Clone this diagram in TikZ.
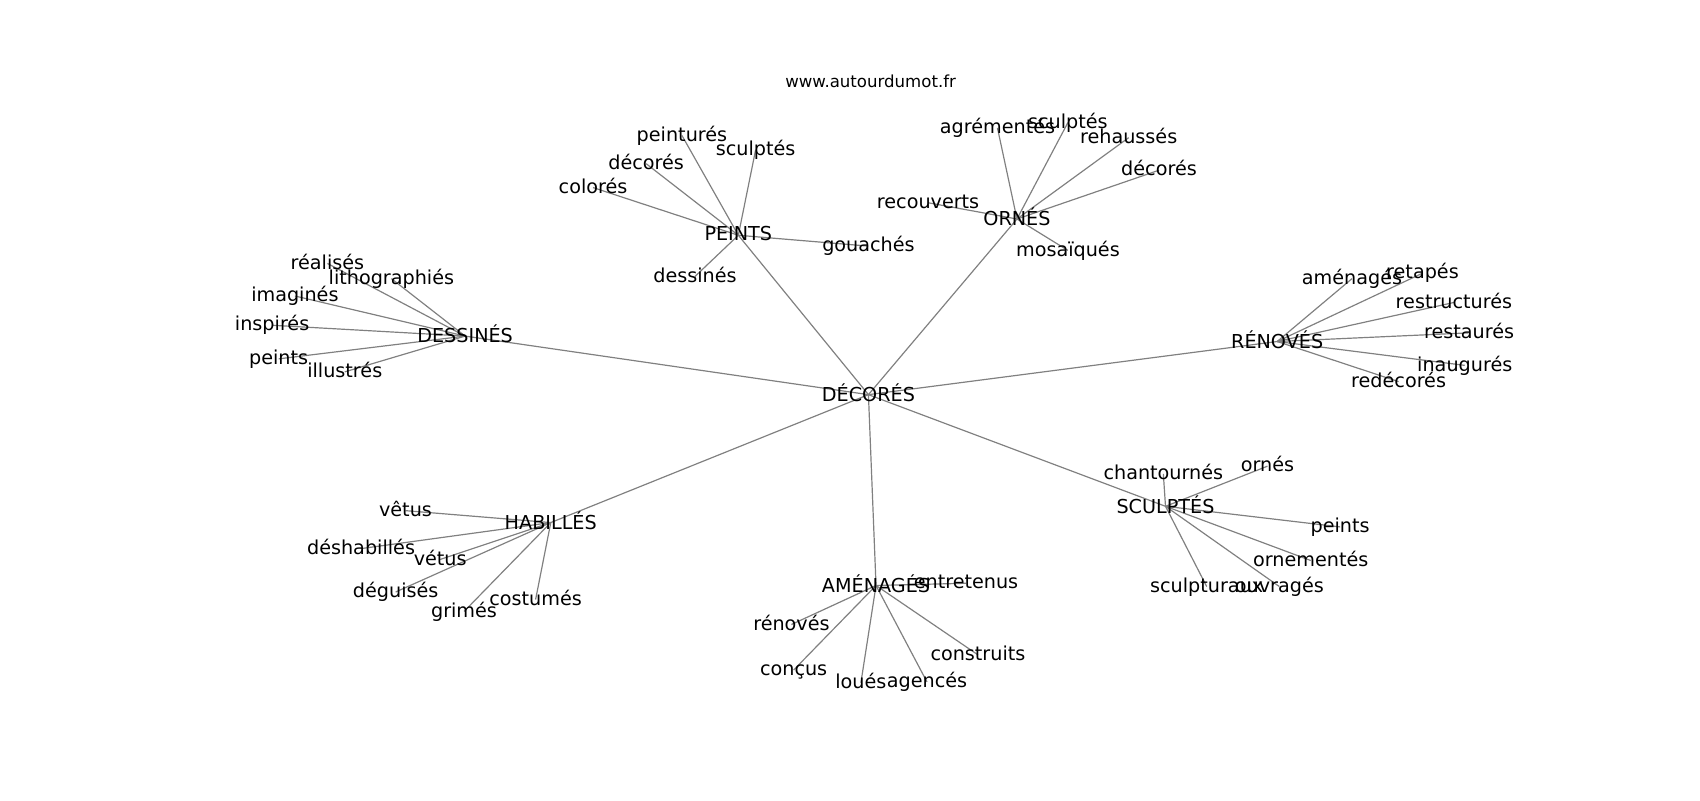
\documentclass[tikz,border=0pt]{standalone}
\usepackage{fontspec}
\setmainfont{DejaVu Sans}
\usetikzlibrary{backgrounds}
\begin{document}
\begin{tikzpicture}[x=1pt,y=-1pt,
  lab/.style={inner sep=0pt, text height=14.16pt, text depth=3.72pt, font=\fontsize{17.7}{21}\selectfont},
  caplab/.style={lab, text height=16.43pt},
  ttl/.style={inner sep=0pt, text height=12.2pt, text depth=3.2pt, font=\fontsize{15.3}{18}\selectfont},
  edge/.style={draw=gray, line width=1.1pt}]
\useasboundingbox (0,0) rectangle (1568,738);
\node[ttl] (title) at (803,76) {www.autourdumot.fr};
% hubs
\node[caplab] (dec) at (801,364) {DÉCORÉS};
\node[lab] (pei) at (681,217) {PEINTS};
\node[caplab] (orn) at (938,202) {ORNÉS};
\node[caplab] (des) at (429,310) {DESSINÉS};
\node[caplab] (ren) at (1178,315) {RÉNOVÉS};
\node[caplab] (hab) at (508,482) {HABILLÉS};
\node[caplab] (ame) at (808,540) {AMÉNAGÉS};
\node[caplab] (scu) at (1075,467) {SCULPTÉS};
% PEINTS
\node[lab] (p1) at (629,125) {peinturés};
\node[lab] (p2) at (697,138) {sculptés};
\node[lab] (p3) at (596,151) {décorés};
\node[lab] (p4) at (547,173) {colorés};
\node[lab] (p5) at (801,227) {gouachés};
\node[lab] (p6) at (641,255) {dessinés};
% ORNES
\node[lab] (o1) at (920,118) {agrémentés};
\node[lab] (o2) at (985,113) {sculptés};
\node[lab] (o3) at (1041,127) {rehaussés};
\node[lab] (o4) at (1069,157) {décorés};
\node[lab] (o5) at (856,187) {recouverts};
\node[lab] (o6) at (985,231) {mosaïqués};
% DESSINES
\node[lab] (d1) at (302,243) {réalisés};
\node[lab] (d2) at (361,257) {lithographiés};
\node[lab] (d3) at (272,273) {imaginés};
\node[lab] (d4) at (251,300) {inspirés};
\node[lab] (d5) at (257,331) {peints};
\node[lab] (d6) at (318,343) {illustrés};
% RENOVES
\node[lab] (r1) at (1247,257) {aménagés};
\node[lab] (r2) at (1312,252) {retapés};
\node[lab] (r3) at (1341,279) {restructurés};
\node[lab] (r4) at (1355,307) {restaurés};
\node[lab] (r5) at (1351,337) {inaugurés};
\node[lab] (r6) at (1290,352) {redécorés};
% HABILLES
\node[lab] (h1) at (374,471) {vêtus};
\node[lab] (h2) at (333,506) {déshabillés};
\node[lab] (h3) at (406,516) {vétus};
\node[lab] (h4) at (365,546) {déguisés};
\node[lab] (h5) at (428,564) {grimés};
\node[lab] (h6) at (494,553) {costumés};
% AMENAGES
\node[lab] (a1) at (891,538) {entretenus};
\node[lab] (a2) at (730,576) {rénovés};
\node[lab] (a3) at (732,618) {conçus};
\node[lab] (a4) at (794,630) {loués};
\node[lab] (a5) at (855,629) {agencés};
\node[lab] (a6) at (902,604) {construits};
% SCULPTES
\node[lab] (s1) at (1073,437) {chantournés};
\node[lab] (s2) at (1169,430) {ornés};
\node[lab] (s3) at (1236,486) {peints};
\node[lab] (s4) at (1209,517) {ornementés};
\node[lab] (s5) at (1113,541) {sculpturaux};
\node[lab] (s6) at (1180,541) {ouvragés};
\begin{scope}[on background layer]
\foreach \a/\b in {dec/pei,dec/orn,dec/des,dec/ren,dec/hab,dec/ame,dec/scu,
  pei/p1,pei/p2,pei/p3,pei/p4,pei/p5,pei/p6,
  orn/o1,orn/o2,orn/o3,orn/o4,orn/o5,orn/o6,
  des/d1,des/d2,des/d3,des/d4,des/d5,des/d6,
  ren/r1,ren/r2,ren/r3,ren/r4,ren/r5,ren/r6,
  hab/h1,hab/h2,hab/h3,hab/h4,hab/h5,hab/h6,
  ame/a1,ame/a2,ame/a3,ame/a4,ame/a5,ame/a6,
  scu/s1,scu/s2,scu/s3,scu/s4,scu/s5,scu/s6}
  \draw[edge] (\a.center) -- (\b.center);
\end{scope}
\end{tikzpicture}
\end{document}
